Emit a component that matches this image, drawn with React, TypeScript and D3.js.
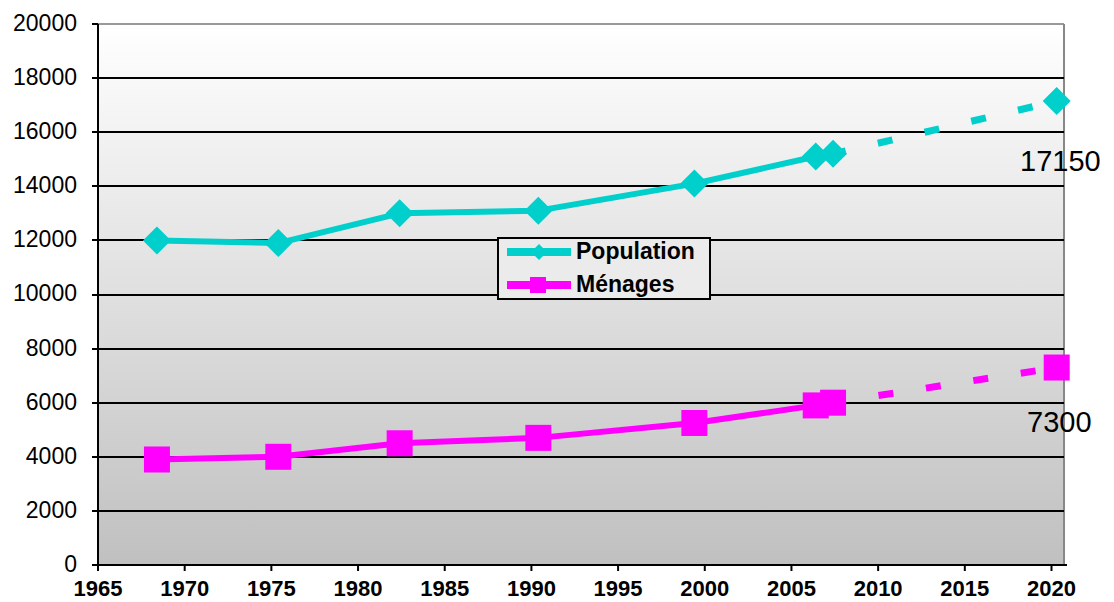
import React from 'react';
import * as d3 from 'd3';

// census years (slightly after Jan 1st, as plotted in the source)
const years = [1968.4, 1975.4, 1982.4, 1990.4, 1999.4, 2006.4, 2007.4];
const projYear = 2020.3;
const population = [12000, 11900, 13000, 13100, 14100, 15100, 15200];
const menages = [3900, 4000, 4500, 4700, 5250, 5900, 6000];
const popProj = 17150;
const menProj = 7300;
const xTicks = [1965, 1970, 1975, 1980, 1985, 1990, 1995, 2000, 2005, 2010, 2015, 2020];
const yTicks = [0, 2000, 4000, 6000, 8000, 10000, 12000, 14000, 16000, 18000, 20000];

const W = 1114;
const H = 602;
const left = 98, right = 1064, top = 24, bottom = 565;
const font = '"Liberation Sans", Arial, Helvetica, sans-serif';
const CYAN = '#00cfcc';
const MAGENTA = '#ff00ff';

export default function App() {
  const x = d3.scaleLinear().domain([1965, 2020]).range([left, 1051.5]);
  const y = d3.scaleLinear().domain([0, 20000]).range([bottom, top]);

  const line = d3.line<[number, number]>().x(d => x(d[0])).y(d => y(d[1]));
  const popPts: [number, number][] = years.map((yr, i) => [yr, population[i]]);
  const menPts: [number, number][] = years.map((yr, i) => [yr, menages[i]]);
  const lastYear = years[years.length - 1];

  const diamond = (cx: number, cy: number, r: number) =>
    `M${cx},${cy - r}L${cx + r},${cy}L${cx},${cy + r}L${cx - r},${cy}Z`;

  return (
    <svg width={W} height={H} style={{ position: 'absolute', left: 0, top: 0 }} fontFamily={font}>
      <defs>
        <linearGradient id="bg" x1="0" y1="0" x2="0" y2="1">
          <stop offset="0" stopColor="#ffffff" />
          <stop offset="1" stopColor="#c0c0c0" />
        </linearGradient>
      </defs>
      <rect x={0} y={0} width={W} height={H} fill="#fff" />
      <rect x={left} y={top} width={right - left} height={bottom - top} fill="url(#bg)" />
      <line x1={left} x2={right} y1={top} y2={top} stroke="#999" strokeWidth={2} />
      <line x1={right} x2={right} y1={top} y2={bottom} stroke="#888" strokeWidth={2} />

      {/* gridlines */}
      {yTicks.filter(t => t > 0 && t < 20000).map(t => (
        <line key={t} x1={left} x2={right} y1={Math.round(y(t))} y2={Math.round(y(t))} stroke="#000" strokeWidth={2} />
      ))}

      {/* axes */}
      <line x1={left} x2={left} y1={top} y2={bottom} stroke="#000" strokeWidth={2} />
      <line x1={left} x2={1067} y1={bottom} y2={bottom} stroke="#000" strokeWidth={2} />
      {yTicks.map(t => (
        <g key={t}>
          <line x1={left - 6} x2={left} y1={Math.round(y(t))} y2={Math.round(y(t))} stroke="#000" strokeWidth={2} />
          <text x={77} y={y(t)} dy="0.3em" textAnchor="end" fontSize={23} fill="#000">{t}</text>
        </g>
      ))}
      {xTicks.map(t => (
        <g key={t}>
          <line x1={x(t)} x2={x(t)} y1={bottom} y2={bottom + 6} stroke="#000" strokeWidth={2} />
          <text x={x(t)} y={596} textAnchor="middle" fontSize={22} fontWeight="bold" fill="#000">{t}</text>
        </g>
      ))}

      {/* projections */}
      <path d={line([[lastYear, population[population.length - 1]], [projYear, popProj]]) || ''}
        fill="none" stroke={CYAN} strokeWidth={7} strokeDasharray="15 33" strokeDashoffset={2} />
      <path d={line([[lastYear, menages[menages.length - 1]], [projYear, menProj]]) || ''}
        fill="none" stroke={MAGENTA} strokeWidth={7} strokeDasharray="15 33" strokeDashoffset={2} />

      {/* observed series */}
      <path d={line(popPts) || ''} fill="none" stroke={CYAN} strokeWidth={6} strokeLinejoin="round" />
      <path d={line(menPts) || ''} fill="none" stroke={MAGENTA} strokeWidth={6} strokeLinejoin="round" />
      {popPts.concat([[projYear, popProj]]).map((d, i) => (
        <path key={i} d={diamond(x(d[0]), y(d[1]), 14)} fill={CYAN} />
      ))}
      {menPts.concat([[projYear, menProj]]).map((d, i) => (
        <rect key={i} x={x(d[0]) - 13} y={y(d[1]) - 13} width={26} height={26} fill={MAGENTA} />
      ))}

      <text x={1020} y={171} fontSize={29} fill="#000">{popProj}</text>
      <text x={1027} y={432} fontSize={29} fill="#000">{menProj}</text>

      {/* legend */}
      <g>
        <rect x={498} y={238} width={212} height={61} fill="#ebebeb" stroke="#000" strokeWidth={2} />
        <line x1={507} x2={571} y1={252} y2={252} stroke={CYAN} strokeWidth={8} />
        <path d={diamond(539, 252, 8)} fill={CYAN} />
        <text x={576} y={259} fontSize={23} fontWeight="bold" fill="#000">Population</text>
        <line x1={507} x2={571} y1={285} y2={285} stroke={MAGENTA} strokeWidth={8} />
        <rect x={530} y={277} width={16} height={16} fill={MAGENTA} />
        <text x={576} y={292} fontSize={23} fontWeight="bold" fill="#000">Ménages</text>
      </g>
    </svg>
  );
}
